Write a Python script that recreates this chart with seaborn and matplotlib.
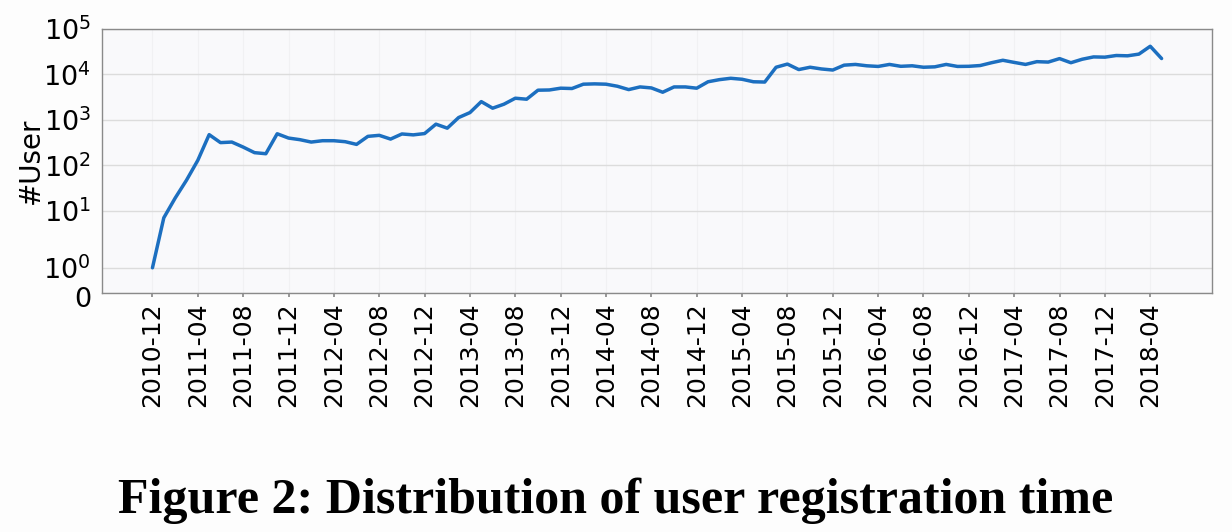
import numpy as np
import pandas as pd
import matplotlib
matplotlib.use("Agg")
import matplotlib.pyplot as plt
import matplotlib.transforms as mtransforms
import seaborn as sns

# ---- data ----
start_month = "2010-12"
n_months = 90
users = [1, 7, 19, 47, 129, 473, 316, 325, 252, 190,
         180, 495, 398, 367, 325, 348, 348, 331, 289, 434,
         457, 378, 490, 468, 500, 805, 657, 1125, 1447, 2524,
         1808, 2215, 2997, 2850, 4500, 4550, 4980, 4900, 6100, 6200,
         6100, 5500, 4640, 5310, 5050, 4060, 5310, 5310, 4980, 6900,
         7680, 8230, 7830, 6900, 6800, 14400, 16900, 12800, 14400, 13200,
         12500, 16000, 16600, 15500, 15000, 16600, 15100, 15500, 14400, 14700,
         16600, 15000, 15100, 15700, 18100, 20500, 18400, 16600, 19100, 18700,
         22300, 18100, 21600, 24300, 24000, 26100, 25700, 28000, 41700, 22400]
months = pd.period_range(start_month, periods=n_months, freq="M").strftime("%Y-%m").tolist()
ytick_values = [0, 1, 10, 100, 1000, 10000, 100000]
ytick_labels = ["0", r"$10^0$", r"$10^1$", r"$10^2$", r"$10^3$", r"$10^4$", r"$10^5$"]
ylabel = "#User"
caption = "Figure 2: Distribution of user registration time"

df = pd.DataFrame({"idx": np.arange(len(users)), "month": months, "users": users})

sns.set_theme(style="whitegrid")
plt.rcParams["font.family"] = ["DejaVu Sans"]
plt.rcParams["text.color"] = "black"
plt.rcParams["axes.labelcolor"] = "black"

fig = plt.figure(figsize=(12.32, 5.32), dpi=100, facecolor="#fdfdfd")
ax = fig.add_axes([0.0828, 0.4492, 0.901, 0.4963])
ax.set_facecolor("#f9f9fb")

sns.lineplot(data=df, x="idx", y="users", ax=ax, color="#1c6fc0", linewidth=2.5)

ax.set_yscale("symlog", linthresh=2, linscale=1)
ax.set_ylim(0, 1e5)
ax.set_yticks(ytick_values)
ax.set_yticklabels(ytick_labels, fontsize=19.5)
ax.yaxis.set_minor_locator(matplotlib.ticker.NullLocator())

tick_idx = list(range(0, len(months), 4))
ax.set_xticks(tick_idx)
ax.set_xticklabels([months[i] for i in tick_idx], rotation=90, fontsize=18)
ax.set_xlim(-4.45, len(months) - 1 + 4.45)

ax.set_xlabel("")
ax.set_ylabel(ylabel, fontsize=20, labelpad=-1)

ax.grid(axis="y", color="#dcdcdc", linewidth=1.0)
ax.grid(axis="x", color="#f1f1f3", linewidth=0.8)
for s in ax.spines.values():
    s.set_color("#8a8a8a")
    s.set_linewidth(1.0)
ax.tick_params(axis="x", bottom=True, length=3, color="#8a8a8a", pad=4, labelcolor="black")
ax.tick_params(axis="y", left=False, pad=2, labelcolor="black")

# nudge the "0" label a few pixels down so it does not touch 10^0
shift = mtransforms.ScaledTranslation(0, -3 / 72, fig.dpi_scale_trans)
for tick in ax.yaxis.get_major_ticks():
    if tick.label1.get_text() == "0":
        tick.label1.set_transform(tick.label1.get_transform() + shift)

fig.text(0.5, 0.035, caption, ha="center", va="baseline", color="black",
         fontsize=36, fontweight="bold", family=["Liberation Serif", "DejaVu Serif"])

fig.savefig("out.png", dpi=100, facecolor=fig.get_facecolor())
